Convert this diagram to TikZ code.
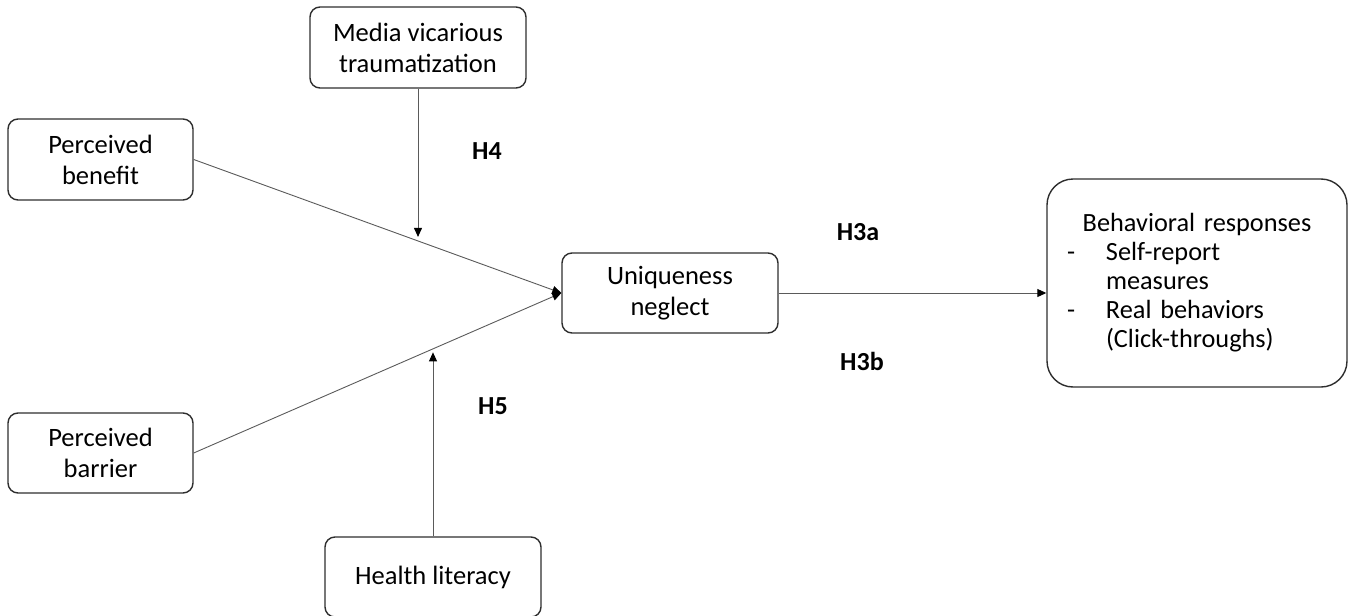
\documentclass[tikz,border=0pt]{standalone}
\usepackage{fontspec}
\setmainfont{Carlito}
\usetikzlibrary{arrows.meta,calc}
\definecolor{boxcol}{HTML}{2E2E2E}
\definecolor{linecol}{HTML}{5A5A5A}
\begin{document}
\begin{tikzpicture}[x=1pt,y=-1pt,
  box/.style={draw=boxcol, line width=1.4pt, rounded corners=10pt, align=center,
    font=\fontsize{26.5}{31}\selectfont, inner sep=0pt},
  conn/.style={draw=linecol, line width=0.9pt},
  arr/.style={conn, -{Triangle[length=9pt,width=8pt,color=black]}},
  hyp/.style={font=\fontsize{26}{30}\selectfont\bfseries, inner sep=0pt}]
\useasboundingbox (0,0) rectangle (1358,616);
\node[box, minimum width=216pt, minimum height=81pt] (mv) at (418,47.5) {Media vicarious\\traumatization};
\node[box, minimum width=185pt, minimum height=81pt] (pb) at (100.5,159.5) {Perceived\\benefit};
\node[box, minimum width=185pt, minimum height=80pt] (pr) at (100.5,453) {Perceived\\barrier};
\node[box, minimum width=216pt, minimum height=80pt] (hl) at (433,577) {Health literacy};
\node[box, minimum width=216pt, minimum height=80pt] (un) at (670,293) {Uniqueness\\neglect};
\node[box, rounded corners=26pt, minimum width=300pt, minimum height=208pt, text width=260pt,
      align=left, font=\fontsize{26.3}{29}\selectfont] (br) at (1197,283)
  {\makebox[260pt][c]{Behavioral responses}\\
   \makebox[39pt][l]{-}Self-report\\
   \hspace*{39pt}measures\\
   \makebox[39pt][l]{-}Real behaviors\\
   \hspace*{39pt}(Click-throughs)};
\draw[arr] (pb.east) -- (un.west);
\draw[arr] (pr.east) -- (un.west);
\draw[arr] (un.east) -- (un.east -| br.west);
\coordinate (c4) at ($(pb.east)!0.6098!(un.west)$);
\coordinate (c5) at ($(pr.east)!0.6477!(un.west)$);
\draw[arr] (mv.south) -- ([yshift=4pt]mv.south |- c4);
\draw[arr] (hl.north) -- ([yshift=-3pt]hl.north |- c5);
\node[hyp] (h4) at (487,151) {H4};
\node[hyp] (h5) at (493,406) {H5};
\node[hyp] (h3a) at (858,232) {H3a};
\node[hyp] (h3b) at (862,361) {H3b};
\end{tikzpicture}
\end{document}
